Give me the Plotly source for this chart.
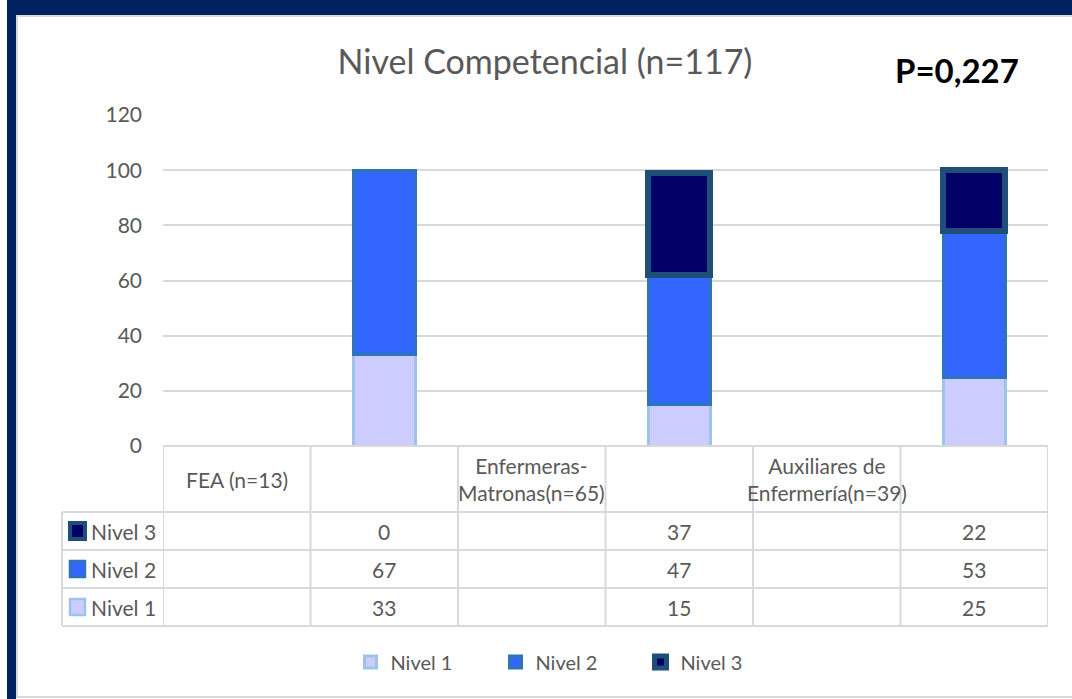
import plotly.graph_objects as go

# ---- data ----
groups = ["FEA (n=13)", "Enfermeras-<br>Matronas(n=65)", "Auxiliares de<br>Enfermería(n=39)"]
series_names = ["Nivel 1", "Nivel 2", "Nivel 3"]
nivel1 = [33, 15, 25]
nivel2 = [67, 47, 53]
nivel3 = [0, 37, 22]
y_ticks = [0, 20, 40, 60, 80, 100, 120]
title_text = "Nivel Competencial (n=117)"
p_text = "P=0,227"

W, H = 1072, 699
def px(x): return x / W
def py(y): return 1 - y / H

FONT = "Lato"
GRAY = "#595959"
GRID = "#D9D9D9"

fill = {"Nivel 1": "#CCCCFF", "Nivel 2": "#3366FF", "Nivel 3": "#000066"}
edge = {"Nivel 1": "#9DC3E6", "Nivel 2": "#2E75B6", "Nivel 3": "#1F4E79"}
edge_w = {"Nivel 1": 3, "Nivel 2": 3, "Nivel 3": 6}

values = {"Nivel 1": nivel1, "Nivel 2": nivel2, "Nivel 3": nivel3}
ncat = 2 * len(groups)
bar_x = [2 * i + 1 for i in range(len(groups))]
label_x = [2 * i for i in range(len(groups))]

fig = go.Figure()
for name in series_names:
    fig.add_trace(go.Bar(
        x=bar_x, y=[v if v else None for v in values[name]], name=name,
        width=0.42,
        marker=dict(color=fill[name], line=dict(color=edge[name], width=edge_w[name])),
    ))

shapes = []
annotations = []

# frame
shapes.append(dict(type="rect", xref="paper", yref="paper", x0=px(17), x1=px(1090), y0=py(697), y1=py(16),
                   line=dict(color=GRID, width=2), fillcolor="rgba(0,0,0,0)", layer="below"))
shapes.append(dict(type="rect", xref="paper", yref="paper", x0=px(7), x1=1.0, y0=py(15), y1=1.0,
                   line=dict(width=0), fillcolor="#002060"))
shapes.append(dict(type="rect", xref="paper", yref="paper", x0=px(7), x1=px(16), y0=0, y1=1.0,
                   line=dict(width=0), fillcolor="#002060"))

# data table geometry (pixels in y)
y_top, y_head, rows_y = 446, 512, [550, 588, 626]
row_lines = [y_head] + rows_y
line_style = dict(color=GRID, width=2)
shapes.append(dict(type="line", xref="x", yref="paper", x0=-0.5, x1=ncat - 0.5, y0=py(y_top), y1=py(y_top), line=line_style))
for yl in row_lines:
    shapes.append(dict(type="line", xref="paper", yref="paper", x0=px(62), x1=px(1048), y0=py(yl), y1=py(yl), line=line_style))
for k in range(ncat + 1):
    shapes.append(dict(type="line", xref="x", yref="paper", x0=k - 0.5, x1=k - 0.5, y0=py(y_top), y1=py(rows_y[-1]), line=line_style))
shapes.append(dict(type="line", xref="paper", yref="paper", x0=px(62), x1=px(62), y0=py(y_head), y1=py(rows_y[-1]), line=line_style))

TS = 21
# header labels
for gx, g in zip(label_x, groups):
    annotations.append(dict(x=gx, xref="x", y=py((y_top + y_head) / 2), yref="paper", text=g, showarrow=False,
                            font=dict(family=FONT, size=TS, color=GRAY), xanchor="center", yanchor="middle"))

# rows: Nivel 3 on top
row_order = ["Nivel 3", "Nivel 2", "Nivel 1"]
prev = y_head
for name, yb in zip(row_order, rows_y):
    yc = (prev + yb) / 2
    lw = 4 if name == "Nivel 3" else 2.5
    shapes.append(dict(type="rect", xref="paper", yref="paper", x0=px(70), x1=px(85), y0=py(yc + 8), y1=py(yc - 8),
                       fillcolor=fill[name], line=dict(color=edge[name], width=lw)))
    annotations.append(dict(x=px(89), xref="paper", y=py(yc), yref="paper", text=name, showarrow=False,
                            font=dict(family=FONT, size=TS, color=GRAY), xanchor="left", yanchor="middle"))
    for bx, v in zip(bar_x, values[name]):
        annotations.append(dict(x=bx, xref="x", y=py(yc), yref="paper", text=str(v), showarrow=False,
                                font=dict(family=FONT, size=TS, color=GRAY), xanchor="center", yanchor="middle"))
    prev = yb

# P value
annotations.append(dict(x=px(957), xref="paper", y=py(70), yref="paper", text="<b>" + p_text + "</b>", showarrow=False,
                        font=dict(family=FONT, size=33, color="#000000"), xanchor="center", yanchor="middle"))

fig.update_layout(
    width=W, height=H,
    margin=dict(l=0, r=0, t=0, b=0),
    paper_bgcolor="white", plot_bgcolor="white",
    barmode="stack",
    title=dict(text=title_text, x=px(545), xanchor="center", y=py(62), yanchor="middle", yref="container",
               font=dict(family=FONT, size=34, color=GRAY)),
    xaxis=dict(domain=[px(163), px(1048)], range=[-0.5, ncat - 0.5], showticklabels=False, showgrid=False,
               zeroline=False, showline=False, fixedrange=True),
    yaxis=dict(domain=[py(446), py(115)], range=[0, 120], tickvals=y_ticks, showgrid=True, gridcolor=GRID, gridwidth=2,
               zeroline=False, showline=False, ticks="", ticklabelstandoff=20,
               tickfont=dict(family=FONT, size=21, color=GRAY), automargin=False),
    legend=dict(orientation="h", x=px(568), xanchor="center", y=py(662), yanchor="middle",
                font=dict(family=FONT, size=20, color=GRAY), itemwidth=30, entrywidth=100, traceorder="normal",
                bgcolor="rgba(0,0,0,0)"),
    shapes=shapes, annotations=annotations,
    font=dict(family=FONT),
)

fig.write_html("out.html")
